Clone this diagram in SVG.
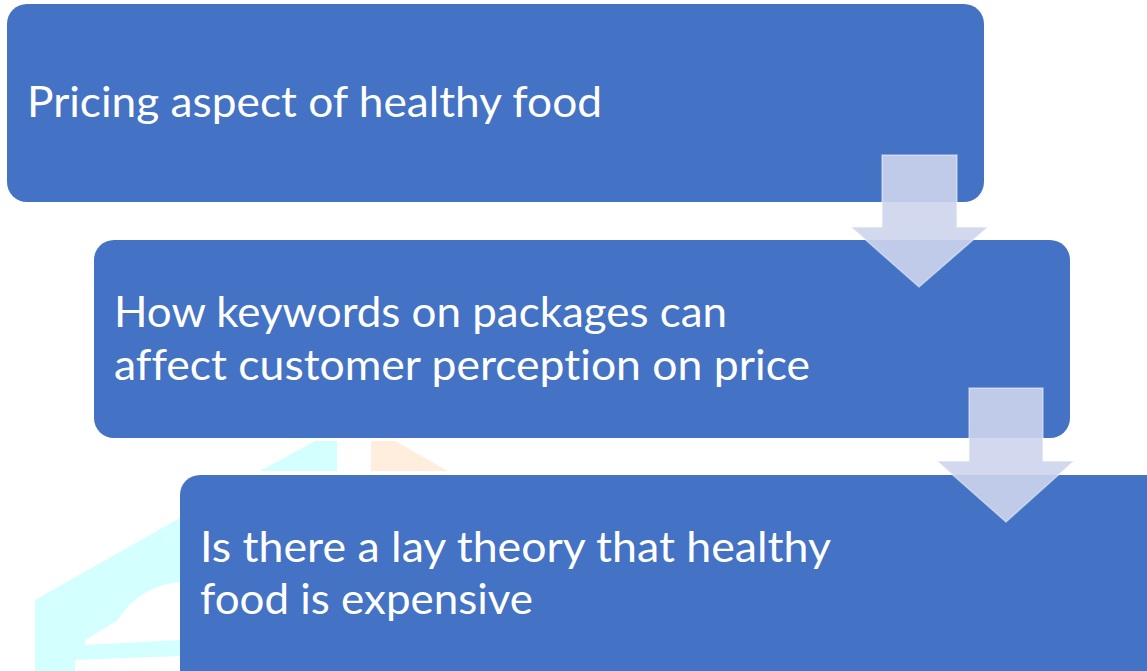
<svg xmlns="http://www.w3.org/2000/svg" width="1147" height="671" viewBox="0 0 1147 671">
<style>
.box{fill:#4472C4;}
.t{font-family:Lato,"Open Sans","Liberation Sans",sans-serif;font-size:42px;fill:#FFFFFF;font-variant-ligatures:none;}
.arr{fill:#CDD5EC;fill-opacity:0.9;stroke:#FFFFFF;stroke-opacity:0.45;stroke-width:1.5;}
.wc{fill:#D4FFFF;}
.wo{fill:#FFEEDD;}
</style>
<rect width="1147" height="671" fill="#FFFFFF"/>
<g id="watermark">
<path class="wc" d="M260 471 L315 441 L337 441 L337 471 Z"/>
<path class="wo" d="M371 441 L395 441 L448 471 L371 471 Z"/>
<path class="wc" d="M180 518 L35 600 L35 671 L180 671 Z"/>
<path fill="#FFFFFF" d="M180 582 C150 585 130 600 118 620 L85 640 L85 645 L180 640 Z"/>
<path fill="#FFFFFF" d="M75 660 L180 656 L180 671 L75 671 Z"/>
</g>
<g id="node1">
<rect class="box" x="7" y="4" width="977" height="198" rx="20"/>
<text class="t" x="27" y="117" textLength="575" lengthAdjust="spacingAndGlyphs">Pricing aspect of healthy food</text>
</g>
<g id="node2">
<rect class="box" x="94" y="240" width="976" height="198" rx="20"/>
<text class="t" x="114" y="327" textLength="613" lengthAdjust="spacingAndGlyphs">How keywords on packages can</text>
<text class="t" x="114" y="380" textLength="696" lengthAdjust="spacingAndGlyphs">affect customer perception on price</text>
</g>
<g id="node3">
<rect class="box" x="180" y="475" width="1000" height="230" rx="20"/>
<text class="t" x="200" y="562" textLength="631" lengthAdjust="spacingAndGlyphs">Is there a lay theory that healthy</text>
<text class="t" x="200" y="614" textLength="333" lengthAdjust="spacingAndGlyphs">food is expensive</text>
</g>
<g id="connectors">
<path class="arr" d="M882 155 L957 155 L957 227 L988 227 L919 287 L851 227 L882 227 Z"/>
<path class="arr" d="M969 388 L1043 388 L1043 461 L1074 461 L1006 522 L937 461 L969 461 Z"/>
</g>
</svg>
